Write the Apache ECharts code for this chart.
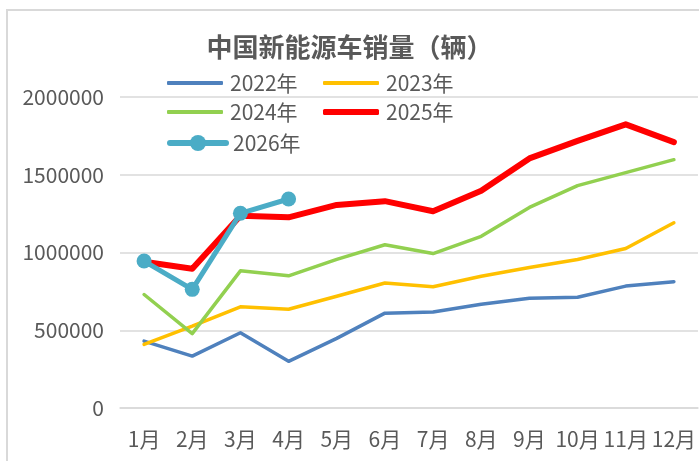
<!DOCTYPE html>
<html>
<head>
<meta charset="utf-8">
<script src="https://cdn.jsdelivr.net/npm/echarts@6/dist/echarts.min.js"></script>
<style>
  html, body { margin: 0; padding: 0; background: #ffffff; }
  #chart { width: 699px; height: 461px; }
</style>
</head>
<body>
<div id="chart"></div>
<script>
// Monthly NEV sales in China (vehicles)
const months = ['1月', '2月', '3月', '4月', '5月', '6月', '7月', '8月', '9月', '10月', '11月', '12月'];
const sales2022 = [430000, 334000, 484000, 300000, 448000, 610000, 617000, 667000, 706000, 712000, 784000, 812000];
const sales2023 = [409000, 526000, 651000, 635000, 719000, 804000, 780000, 847000, 904000, 955000, 1026000, 1191000];
const sales2024 = [730000, 478000, 882000, 850000, 956000, 1050000, 993000, 1104000, 1290000, 1430000, 1514000, 1597000];
const sales2025 = [940000, 895000, 1236000, 1226000, 1306000, 1330000, 1265000, 1397000, 1605000, 1718000, 1824000, 1710000];
const sales2026 = [945000, 763000, 1252000, 1344000];

const yMin = 0, yMax = 2000000, yStep = 500000;

const FONT = "'Noto Sans CJK SC', 'Liberation Sans', sans-serif";
const TEXT = '#595959';
const GRID = '#d9d9d9';

const COLORS = { '2022年': '#4f81bd', '2023年': '#ffc000', '2024年': '#92d050', '2025年': '#ff0000', '2026年': '#4bacc6' };
const WIDTHS = { '2022年': 3.5, '2023年': 3.5, '2024年': 3.5, '2025年': 6, '2026年': 5 };

function lineSeries(name, data, withMarker) {
  return {
    name: name,
    type: 'line',
    data: data,
    symbol: withMarker ? 'circle' : 'none',
    symbolSize: withMarker ? 15 : 0,
    showSymbol: !!withMarker,
    itemStyle: { color: COLORS[name] },
    lineStyle: { color: COLORS[name], width: WIDTHS[name], cap: 'round', join: 'round' },
    emphasis: { disabled: true },
    animation: false
  };
}

// one legend entry per component so each swatch gets its own thickness
function legendItem(name, left, centerY, swatchH) {
  return {
    data: [{ name: name, icon: 'roundRect' }],
    left: left,
    top: centerY - 11,
    padding: 0,
    itemWidth: 56,
    itemHeight: swatchH,
    itemGap: 0,
    textStyle: { fontFamily: FONT, fontSize: 21, color: TEXT, lineHeight: 22, padding: [0, 0, 0, 2] }
  };
}

const markerLegend = {
  data: ['2026年'],
  left: 167,
  top: 143 - 11,
  padding: 0,
  itemWidth: 56,
  itemHeight: 20,
  lineStyle: { width: 6, cap: 'round' },
  textStyle: { fontFamily: FONT, fontSize: 21, color: TEXT, lineHeight: 22, padding: [0, 0, 0, 2] }
};

const chart = echarts.init(document.getElementById('chart'), null, { renderer: 'canvas' });
chart.setOption({
  backgroundColor: '#ffffff',
  animation: false,
  title: {
    text: '中国新能源车销量（辆）',
    left: 'center',
    top: 29,
    textStyle: { fontFamily: FONT, fontSize: 26, fontWeight: 'bold', color: TEXT }
  },
  graphic: [{
    type: 'rect',
    shape: { x: 7, y: 10, width: 760, height: 520 },
    style: { fill: 'none', stroke: '#d9d9d9', lineWidth: 2 },
    silent: true,
    z: -1
  }],
  legend: [
    legendItem('2022年', 167, 83, 4),
    legendItem('2023年', 323, 83, 4),
    legendItem('2024年', 167, 112, 4),
    legendItem('2025年', 323, 112, 6),
    markerLegend
  ],
  grid: { left: 120, right: 0, top: 97, bottom: 53, containLabel: false },
  xAxis: {
    type: 'category',
    data: months,
    boundaryGap: true,
    axisLine: { show: true, lineStyle: { color: GRID, width: 1.5 } },
    axisTick: { show: false },
    axisLabel: { fontFamily: FONT, fontSize: 21, color: TEXT, margin: 21, interval: 0 }
  },
  yAxis: {
    type: 'value',
    min: yMin,
    max: yMax,
    interval: yStep,
    axisLine: { show: false },
    axisTick: { show: false },
    splitLine: { lineStyle: { color: GRID, width: 1.5 } },
    axisLabel: { fontFamily: FONT, fontSize: 21, color: TEXT, margin: 16, formatter: function (v) { return String(v); } }
  },
  series: [
    lineSeries('2022年', sales2022, false),
    lineSeries('2023年', sales2023, false),
    lineSeries('2024年', sales2024, false),
    lineSeries('2025年', sales2025, false),
    lineSeries('2026年', sales2026, true)
  ]
});
</script>
</body>
</html>
